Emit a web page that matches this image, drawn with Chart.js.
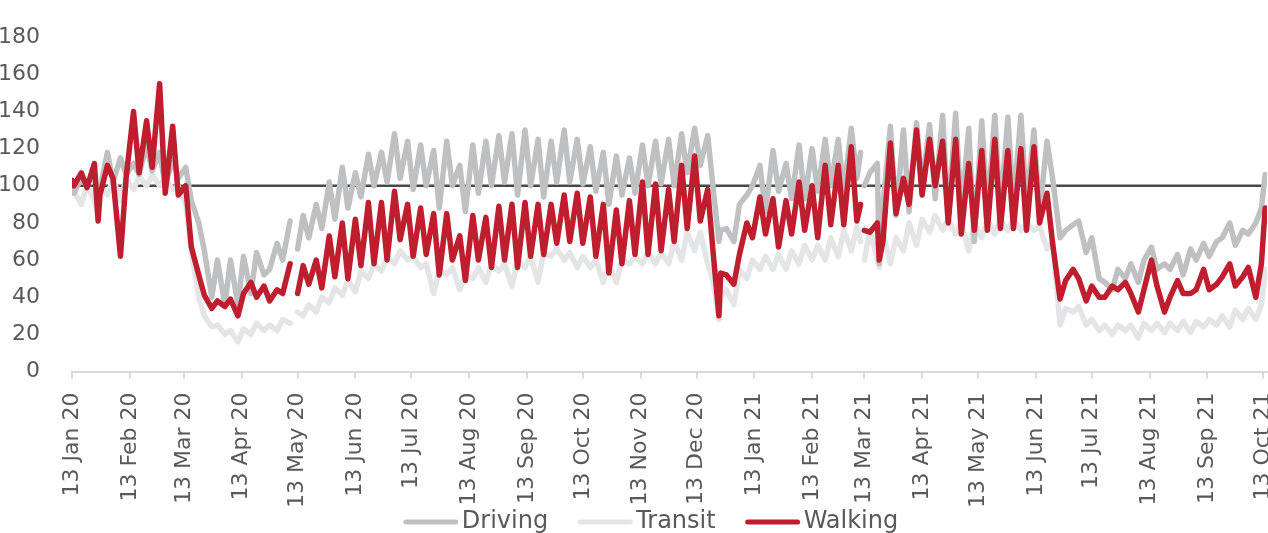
<!DOCTYPE html>
<html>
<head>
<meta charset="utf-8">
<title>Mobility trends</title>
<script src="https://cdn.jsdelivr.net/npm/chart.js@4.4.1/dist/chart.umd.min.js"></script>
<style>
  html, body { margin: 0; padding: 0; overflow: hidden; background: #fff; }
  #wrap { position: relative; width: 1268px; height: 533px; }
</style>
</head>
<body>
<div id="wrap"><canvas id="mobilityChart"></canvas></div>
<script>
// sample days, counted from 13 Jan 2020 (null rows = missing data)
const days = [
  0,1,5,8,12,14,15,19,22,26, 29,33,36,40,43,47,50,54,57,61,
  64,68,71,75,78,82,85,89,92,96, 99,103,106,110,113,117, 119,
  121,124,127,131,134,138,141,145,148,152, 155,159,162,166,169,173,176,180,183,187,
  190,194,197,201,204,208,211,215,218,222, 225,229,232,236,239,243,246,250,253,257,
  260,264,267,271,274,278,281,285,288,292, 295,299,302,306,309,313,316,320,323,327,
  330,334,337,341,344,347,348, 351,355,358,362,365,369,372,376,379,383,
  386,390,393,397,400,404,407,411,414,418, 421,423,424,425, 428,432,433,
  435,439,442,446,449,453,456,460,463,467, 470,474,477,481,484,488,491,495,498,502,
  505,509,512,516,519,523,526,530, 533,537,540,544,547,551,554,558,561,565,
  568,572,575,579,582,586,589,593,596,600, 603,607,610,614,617,621,624,628,631,635,
  638,640
];

const driving = [
  100,96,104,100,108,86,98,118,102,115, 106,112,106,122,108,118,100,114,104,110,
  92,80,65,40,60,36,60,36,62,42, 64,52,55,69,60,81, null,
  66,84,72,90,77,102,82,110,88,107, 94,117,100,118,102,128,104,124,98,122,
  100,119,88,124,100,111,86,122,96,124, 100,127,102,128,95,130,100,125,94,124,
  102,130,102,125,101,121,97,118,90,116, 95,115,96,122,100,124,101,125,100,128,
  107,131,111,127,98,70,76, 77,70,90,95,100,111,86,119,97,112,
  93,122,93,120,97,125,100,125,97,131, 104,118,null,100, 107,112,58,
  90,132,84,130,86,134,100,133,93,138, 83,139,86,131,70,135,86,138,86,137,
  90,138,90,130,85,124,104,72, 76,79,81,64,72,50,48,44,55,50,
  58,48,60,67,55,58,55,63,52,66, 60,69,62,70,72,80,68,76,74,80,
  88,106
];

const transit = [
  98,97,90,100,92,85,100,95,104,92, 104,98,105,100,106,100,104,98,100,90,
  65,40,30,24,25,20,22,16,23,20, 26,22,25,22,28,26, null,
  32,30,36,32,40,37,45,41,49,43, 54,50,58,54,62,58,65,60,62,56,
  58,42,55,52,56,44,52,50,56,48, 58,54,58,46,60,56,62,48,64,62,
  66,60,64,56,62,56,60,48,58,48, 60,58,62,58,64,58,64,58,70,60,
  75,65,75,58,48,28,40, 44,36,55,50,60,55,62,55,63,55,
  65,58,68,60,68,60,72,62,76,65, 78,70,null,60, 76,60,56,
  75,58,72,65,80,68,82,75,84,76, 82,74,80,65,80,72,82,74,82,76,
  82,76,80,76,78,66,70,25, 34,32,35,25,28,22,25,20,25,22,
  25,18,26,22,26,21,26,22,27,21, 27,24,28,25,30,24,33,28,34,28,
  36,55
];

const walking = [
  103,100,107,99,112,81,95,111,104,62, 104,140,107,135,110,155,96,132,95,100,
  67,52,41,34,38,35,39,30,42,48, 40,46,38,44,42,58, null,
  42,57,47,60,45,73,51,80,50,82, 57,91,58,91,60,97,71,90,62,88,
  63,85,52,85,60,73,49,84,60,83, 56,89,60,90,56,91,62,90,63,90,
  69,95,70,96,69,94,62,90,53,87, 58,92,63,102,63,101,65,98,70,111,
  77,116,81,98,63,30,53, 52,47,63,80,72,94,74,93,67,92,
  74,102,76,100,72,111,79,111,79,121, 81,90,null,76, 75,80,60,
  70,123,85,104,90,130,95,125,100,124, 80,125,74,112,76,119,76,125,77,119,
  77,120,76,121,80,96,69,39, 49,55,50,38,46,40,40,46,44,48,
  42,32,44,60,46,32,40,49,42,42, 44,55,44,47,51,58,46,51,56,40,
  58,88
];

const tickLabels = [
  '13 Jan 20','13 Feb 20','13 Mar 20','13 Apr 20','13 May 20','13 Jun 20',
  '13 Jul 20','13 Aug 20','13 Sep 20','13 Oct 20','13 Nov 20','13 Dec 20',
  '13 Jan 21','13 Feb 21','13 Mar 21','13 Apr 21','13 May 21','13 Jun 21',
  '13 Jul 21','13 Aug 21','13 Sep 21','13 Oct 21'
];

const baselineValue = 100;
const baselineEnd = 639;

const monthIdx = {Jan:0,Feb:1,Mar:2,Apr:3,May:4,Jun:5,Jul:6,Aug:7,Sep:8,Oct:9,Nov:10,Dec:11};
const fontFamily = "'DejaVu Sans', sans-serif";
const textColor = '#595959';

window.addEventListener('DOMContentLoaded', event => {
    drawChart();
});

function dayOffset(label){
    const parts = label.split(' ');
    const t = Date.UTC(2000 + Number(parts[2]), monthIdx[parts[1]], Number(parts[0]));
    return Math.round((t - Date.UTC(2020, 0, 13)) / 86400000);
}

function toPoints(values){
    return days.map((d, i) => ({x: d, y: values[i]}));
}

// horizontal reference line at 100, under the series
const baselinePlugin = {
    id: 'baseline',
    beforeDatasetsDraw(chart) {
        const {ctx, scales: {x, y}} = chart;
        const py = y.getPixelForValue(baselineValue);
        ctx.save();
        ctx.strokeStyle = '#484848';
        ctx.lineWidth = 2.5;
        ctx.beginPath();
        ctx.moveTo(x.getPixelForValue(0), py);
        ctx.lineTo(x.getPixelForValue(baselineEnd), py);
        ctx.stroke();
        ctx.restore();
    }
};

// legend drawn by hand: line sample close to its text, centred under the plot
const lineLegend = {
    id: 'lineLegend',
    afterDraw(chart) {
        const ctx = chart.ctx;
        const sets = chart.data.datasets;
        const sample = 50, gap = 6, spacing = 32, cy = 522;
        ctx.save();
        ctx.font = '24px ' + fontFamily;
        const widths = sets.map(ds => ctx.measureText(ds.label).width);
        const total = widths.reduce((a, w) => a + sample + gap + w, 0) + spacing * (sets.length - 1);
        let x = 652 - total / 2;
        sets.forEach((ds, i) => {
            ctx.strokeStyle = ds.borderColor;
            ctx.lineWidth = 5;
            ctx.lineCap = 'round';
            ctx.beginPath();
            ctx.moveTo(x, cy);
            ctx.lineTo(x + sample, cy);
            ctx.stroke();
            ctx.fillStyle = textColor;
            ctx.textBaseline = 'middle';
            ctx.textAlign = 'left';
            ctx.fillText(ds.label, x + sample + gap, cy);
            x += sample + gap + widths[i] + spacing;
        });
        ctx.restore();
    }
};

function drawChart(){
    const ctx = document.getElementById('mobilityChart');
    const tickDays = tickLabels.map(dayOffset);

    new Chart(ctx, {
        type: 'line',
        data: {
            datasets: [
                { label: 'Driving', data: toPoints(driving), borderColor: '#BFC0C2', backgroundColor: '#BFC0C2', order: 1 },
                { label: 'Transit', data: toPoints(transit), borderColor: '#E4E5E7', backgroundColor: '#E4E5E7', order: 2 },
                { label: 'Walking', data: toPoints(walking), borderColor: '#BE1E2D', backgroundColor: '#BE1E2D', order: 0 }
            ]
        },
        options: {
            animation: false,
            responsive: true,
            maintainAspectRatio: false,
            spanGaps: false,
            layout: { padding: { left: 0, right: 1, top: 27, bottom: 21.5 } },
            elements: {
                line: { borderWidth: 5.5, tension: 0, borderJoinStyle: 'round', borderCapStyle: 'round' },
                point: { radius: 0, hoverRadius: 0 }
            },
            plugins: {
                tooltip: { enabled: false },
                legend: { display: false }
            },
            scales: {
                x: {
                    type: 'linear',
                    min: 0,
                    max: 641,
                    afterBuildTicks: scale => {
                        scale.ticks = tickDays.map(v => ({value: v}));
                    },
                    afterFit: scale => {
                        scale.height = 140;
                        scale.paddingLeft = 0;
                        scale.paddingRight = 0;
                    },
                    ticks: {
                        autoSkip: false,
                        minRotation: 90,
                        maxRotation: 90,
                        padding: 14,
                        color: textColor,
                        font: { family: fontFamily, size: 22 },
                        callback: (value, index) => tickLabels[index]
                    },
                    grid: { drawOnChartArea: false, drawTicks: true, tickLength: 7, color: '#D9D9D9', lineWidth: 2 },
                    border: { display: true, color: '#D9D9D9', width: 2 }
                },
                y: {
                    min: 0,
                    max: 180,
                    afterFit: scale => {
                        scale.width = 72;
                    },
                    ticks: {
                        stepSize: 20,
                        padding: 24,
                        color: textColor,
                        font: { family: fontFamily, size: 22 }
                    },
                    grid: { display: false },
                    border: { display: false }
                }
            }
        },
        plugins: [baselinePlugin, lineLegend]
    });
}
</script>
</body>
</html>
